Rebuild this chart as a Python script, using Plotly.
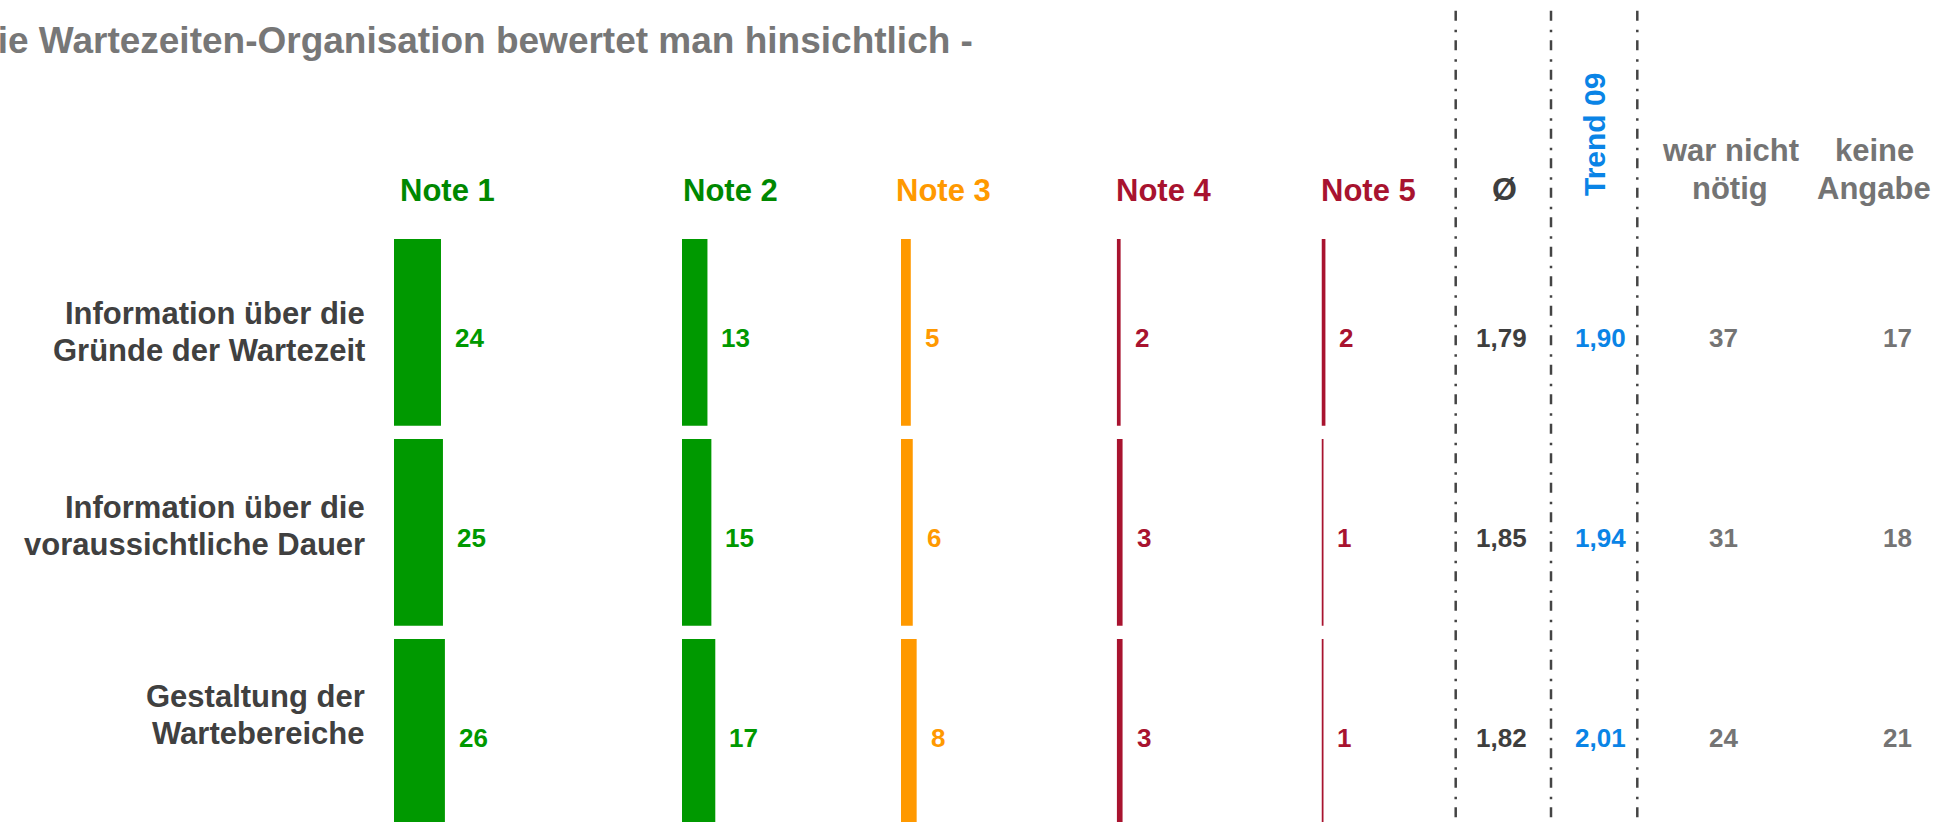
import plotly.graph_objects as go

# ---------------- data ----------------
categories = [
    "Information über die<br>Gründe der Wartezeit",
    "Information über die<br>voraussichtliche Dauer",
    "Gestaltung der<br>Wartebereiche",
]
grade_labels = ["Note 1", "Note 2", "Note 3", "Note 4", "Note 5"]
note1 = [24, 25, 26]
note2 = [13, 15, 17]
note3 = [5, 6, 8]
note4 = [2, 3, 3]
note5 = [2, 1, 1]
average = [1.79, 1.85, 1.82]
trend09 = [1.90, 1.94, 2.01]
not_needed = [37, 31, 24]
no_answer = [17, 18, 21]
title_text = "Die Wartezeiten-Organisation bewertet man hinsichtlich -"
avg_label = "Ø"
trend_label = "Trend 09"
not_needed_label = "war nicht<br>nötig"
no_answer_label = "keine<br>Angabe"

# ---------------- layout constants ----------------
W, H = 1939, 822
PX_PER_UNIT = 1.958
FONT = "Liberation Sans, Arial, Helvetica, sans-serif"
GREEN = "#009900"
GREEN_HEAD = "#008800"
ORANGE = "#FF9900"
RED = "#A8132F"
BLUE = "#0A84E6"
DARK = "#3E3E3E"
GRAY = "#747474"
bar_colors = [GREEN, GREEN, ORANGE, RED, RED]
head_colors = [GREEN_HEAD, GREEN_HEAD, ORANGE, RED, RED]
col_start_px = [394, 682, 901, 1116.7, 1321.5]
col_span_px = [200, 200, 200, 190, 110]
head_x_px = [447, 730, 943, 1164, 1368]
sep_x_px = [1455.7, 1551.0, 1637.3]
right_cols_px = [1501, 1600, 1723.5, 1897]
ROW_PITCH = 200.0
ROW0_CENTER = 332.3
BAR_THICK = 186.7 / ROW_PITCH
LABEL_RIGHT_PX = 367
LABEL_BLOCK_SHIFT = [0, 6, 17]   # px upwards of the label block per row
LABEL_LINE_GAP = 37

series = [note1, note2, note3, note4, note5]

fig = go.Figure()
for i, vals in enumerate(series):
    xa = "x" if i == 0 else f"x{i+1}"
    fig.add_trace(go.Bar(
        x=vals, y=categories, orientation="h", xaxis=xa, yaxis="y",
        marker=dict(color=bar_colors[i], line=dict(width=0)),
        width=BAR_THICK, name=grade_labels[i], hoverinfo="x+y",
        showlegend=False,
    ))

layout_axes = {}
for i in range(5):
    key = "xaxis" if i == 0 else f"xaxis{i+1}"
    d0 = col_start_px[i] / W
    d1 = (col_start_px[i] + col_span_px[i]) / W
    layout_axes[key] = dict(
        domain=[d0, d1], range=[0, col_span_px[i] / PX_PER_UNIT],
        visible=False, anchor="y", fixedrange=True,
    )

y_top = -ROW0_CENTER / ROW_PITCH
y_bot = (H - ROW0_CENTER) / ROW_PITCH

annotations = []
# category labels (two lines each, right aligned before the first column)
for r, cat in enumerate(categories):
    lines = cat.split("<br>")
    n = len(lines)
    for k, line in enumerate(lines):
        offset = (k - (n - 1) / 2) * LABEL_LINE_GAP
        annotations.append(dict(
            x=LABEL_RIGHT_PX / W, y=cat, xref="paper", yref="y", text=line,
            showarrow=False, xanchor="right", yanchor="middle",
            yshift=LABEL_BLOCK_SHIFT[r] - offset,
            font=dict(family=FONT, size=31, color="#404040", weight="bold"),
        ))

# value labels next to bars
for i, vals in enumerate(series):
    xr = "x" if i == 0 else f"x{i+1}"
    for r, v in enumerate(vals):
        annotations.append(dict(
            x=v, y=categories[r], xref=xr, yref="y", text=str(v),
            showarrow=False, xanchor="left", yanchor="middle",
            xshift=12, yshift=-6,
            font=dict(family=FONT, size=26, color=bar_colors[i], weight="bold"),
        ))

def fmt(v):
    return f"{v:.2f}".replace(".", ",")

right_data = [
    ([fmt(v) for v in average], DARK),
    ([fmt(v) for v in trend09], BLUE),
    ([str(v) for v in not_needed], GRAY),
    ([str(v) for v in no_answer], GRAY),
]
for c, (texts, color) in enumerate(right_data):
    for r, t in enumerate(texts):
        annotations.append(dict(
            x=right_cols_px[c] / W, y=categories[r], xref="paper", yref="y",
            text=t, showarrow=False, xanchor="center", yanchor="middle",
            yshift=-6,
            font=dict(family=FONT, size=26, color=color, weight="bold"),
        ))

# column headers
for i, lab in enumerate(grade_labels):
    annotations.append(dict(
        x=head_x_px[i] / W, y=1 - 190 / H, xref="paper", yref="paper",
        text=lab, showarrow=False, xanchor="center", yanchor="middle",
        font=dict(family=FONT, size=31, color=head_colors[i], weight="bold"),
    ))
annotations.append(dict(
    x=1504.6 / W, y=1 - 189 / H, xref="paper", yref="paper",
    text=avg_label, showarrow=False, xanchor="center", yanchor="middle",
    font=dict(family=FONT, size=32, color=DARK, weight="bold"),
))
annotations.append(dict(
    x=1595 / W, y=1 - 135 / H, xref="paper", yref="paper",
    text=trend_label, showarrow=False, xanchor="center", yanchor="middle",
    textangle=-90,
    font=dict(family=FONT, size=30, color=BLUE, weight="bold"),
))
for lab, hx in ((not_needed_label, 1730), (no_answer_label, 1874)):
    for k, line in enumerate(lab.split("<br>")):
        annotations.append(dict(
            x=hx / W, y=1 - (150.6 + k * 37.5) / H, xref="paper", yref="paper",
            text=line, showarrow=False, xanchor="center", yanchor="middle",
            font=dict(family=FONT, size=31, color=GRAY, weight="bold"),
        ))
# title (cut at the left edge, as in the original)
annotations.append(dict(
    x=975 / W, y=1 - 41 / H, xref="paper", yref="paper",
    text=title_text, showarrow=False, xanchor="right", yanchor="middle",
    font=dict(family=FONT, size=37, color="#777777", weight="bold"),
))

shapes = []
for sx in sep_x_px:
    shapes.append(dict(
        type="line", xref="paper", yref="paper",
        x0=sx / W, x1=sx / W, y0=1 - 10.7 / H, y1=0,
        line=dict(color="#444444", width=2.5, dash="10px,9px,2.5px,8px"),
    ))

fig.update_layout(
    width=W, height=H,
    margin=dict(l=0, r=0, t=0, b=0),
    paper_bgcolor="white", plot_bgcolor="white",
    barmode="overlay",
    showlegend=False,
    yaxis=dict(
        domain=[0, 1], range=[y_bot, y_top], anchor="x",
        showgrid=False, zeroline=False, showline=False, ticks="",
        showticklabels=False, fixedrange=True,
    ),
    annotations=annotations,
    shapes=shapes,
    **layout_axes,
)

fig.write_html("out.html", include_plotlyjs=True,
               config={"displayModeBar": False},
               post_script="document.body.style.margin='0';document.body.style.overflow='hidden';")
